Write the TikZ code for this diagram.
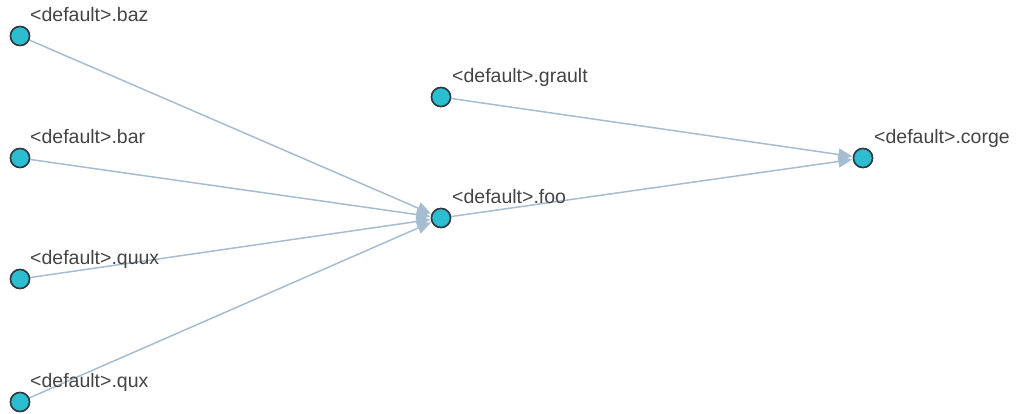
\documentclass[tikz,border=0pt]{standalone}
\usepackage{fontspec}
\setmainfont{Liberation Sans}
\usetikzlibrary{arrows.meta}
\definecolor{nodefill}{HTML}{2DBDD1}
\definecolor{nodeline}{HTML}{2F3A40}
\definecolor{edgecol}{HTML}{A6BDD1}
\definecolor{labcol}{HTML}{444444}
\tikzset{
  vert/.style={circle,draw=nodeline,fill=nodefill,line width=1.5pt,minimum size=19pt,inner sep=0pt},
  edge/.style={draw=edgecol,line width=1.5pt,-{Triangle[length=14pt,width=12pt]},shorten >=0.5pt},
  lab/.style={anchor=base west,inner sep=0pt,text=labcol,font=\fontsize{19.5}{22}\selectfont}
}
\begin{document}
\begin{tikzpicture}[x=1pt,y=-1pt]
\useasboundingbox (0,0) rectangle (1017,414);
\node[vert] (baz) at (20,36) {};
\node[vert] (bar) at (20,158) {};
\node[vert] (quux) at (20,279) {};
\node[vert] (qux) at (20,402) {};
\node[vert] (grault) at (441,97) {};
\node[vert] (foo) at (441,218) {};
\node[vert] (corge) at (863,158) {};
\path[edge] (baz) -- (foo);
\path[edge] (bar) -- (foo);
\path[edge] (quux) -- (foo);
\path[edge] (qux) -- (foo);
\path[edge] (foo) -- (corge);
\path[edge] (grault) -- (corge);
\foreach \n in {baz,bar,quux,qux,grault,foo,corge}{
  \node[vert] at (\n) {};
}
\node[lab] (lbaz) at ([xshift=10pt,yshift=14.5pt]baz.center) {<default>.baz};
\node[lab] (lbar) at ([xshift=10pt,yshift=14.5pt]bar.center) {<default>.bar};
\node[lab] (lquux) at ([xshift=10pt,yshift=14.5pt]quux.center) {<default>.quux};
\node[lab] (lqux) at ([xshift=10pt,yshift=14.5pt]qux.center) {<default>.qux};
\node[lab] (lgrault) at ([xshift=11pt,yshift=14.5pt]grault.center) {<default>.grault};
\node[lab] (lfoo) at ([xshift=11pt,yshift=14.5pt]foo.center) {<default>.foo};
\node[lab] (lcorge) at ([xshift=11pt,yshift=14.5pt]corge.center) {<default>.corge};
\end{tikzpicture}
\end{document}
